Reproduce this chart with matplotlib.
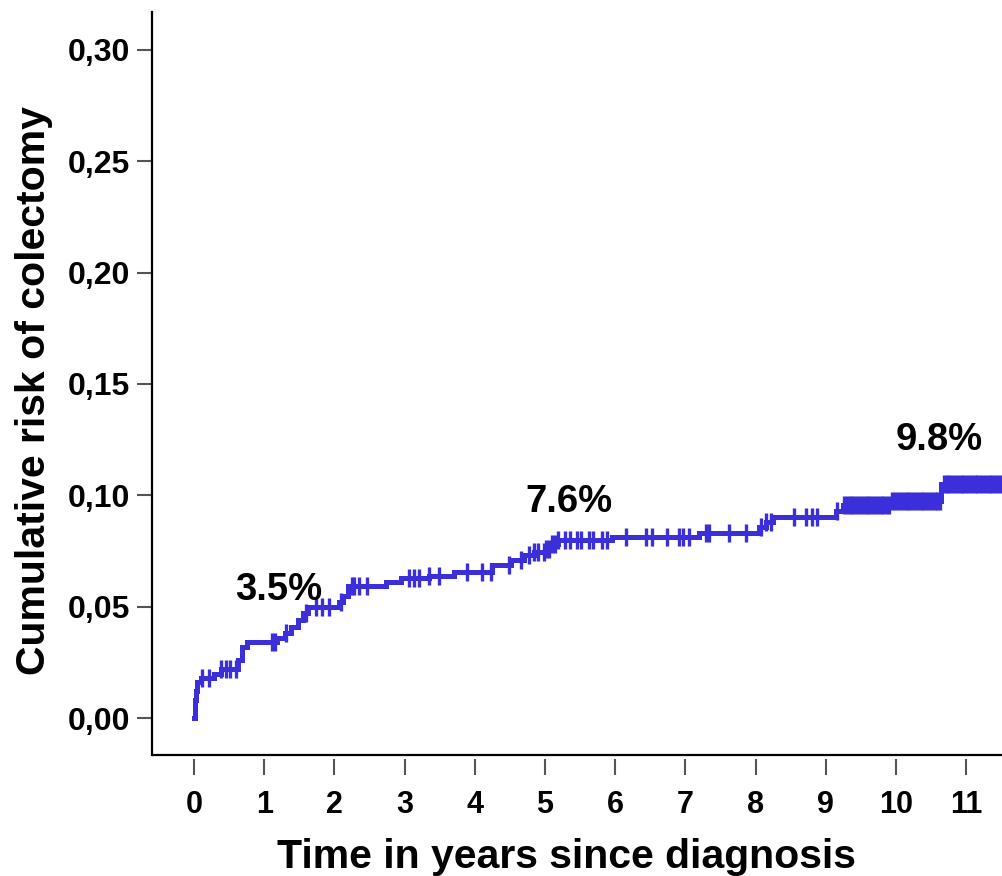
import matplotlib.pyplot as plt
import numpy as np

# step points of the cumulative colectomy risk curve (years, risk)
event_t = [0.0, 0.01, 0.02, 0.03, 0.05, 0.10, 0.28, 0.38, 0.62, 0.68, 0.75,
           1.18, 1.30, 1.38, 1.48, 1.56, 1.62, 2.06, 2.12, 2.20, 2.73, 2.95,
           3.35, 3.70, 4.25, 4.52, 4.70, 4.85, 5.00, 5.10, 5.18, 5.95, 7.20,
           8.05, 8.15, 8.25, 9.15, 9.24, 9.93, 10.64]
event_y = [0.0, 0.004, 0.008, 0.012, 0.016, 0.018, 0.020, 0.022, 0.026, 0.032, 0.034,
           0.036, 0.038, 0.041, 0.044, 0.047, 0.050, 0.052, 0.055, 0.0595, 0.061, 0.063,
           0.064, 0.0655, 0.0685, 0.071, 0.073, 0.0745, 0.076, 0.078, 0.080, 0.0815, 0.083,
           0.086, 0.088, 0.0903, 0.093, 0.0956, 0.0975, 0.105]
t_end = 11.6

# censored observations (years)
censor_t = [0.12, 0.21, 0.38, 0.45, 0.52, 0.60, 1.11, 1.15, 1.31, 1.60, 1.74, 1.83,
            1.92, 2.09, 2.25, 2.28, 2.35, 2.46, 3.06, 3.13, 3.20, 3.35, 3.49, 3.89,
            4.10, 4.23, 4.49, 4.66, 4.77, 4.85, 4.90, 4.98, 5.02, 5.06, 5.10, 5.14,
            5.18, 5.28, 5.35, 5.45, 5.52, 5.62, 5.68, 5.81, 5.88, 6.15, 6.44, 6.52,
            6.74, 6.91, 6.96, 7.05, 7.30, 7.34, 7.62, 7.86, 8.08, 8.15, 8.22, 8.55,
            8.72, 8.80, 8.87, 9.16,
            9.26, 9.30, 9.34, 9.38, 9.42, 9.46, 9.50, 9.54, 9.58, 9.62, 9.66, 9.70,
            9.74, 9.78, 9.82, 9.86, 9.90, 9.95, 9.99, 10.03, 10.07, 10.11, 10.15,
            10.19, 10.23, 10.27, 10.31, 10.35, 10.39, 10.43, 10.47, 10.51, 10.55,
            10.59, 10.63, 10.68, 10.72, 10.76, 10.80, 10.84, 10.88, 10.92, 10.96,
            11.00, 11.04, 11.08, 11.12, 11.16, 11.20, 11.24, 11.28, 11.32, 11.36,
            11.40, 11.44, 11.48, 11.52]

# labelled risks
label_txt = ['3.5%', '7.6%', '9.8%']
label_x = [1.21, 5.34, 10.61]
label_y = [0.0575, 0.097, 0.125]

x_ticks = list(range(0, 12))
y_ticks = [0.00, 0.05, 0.10, 0.15, 0.20, 0.25, 0.30]
y_ticklabels = ['0,00', '0,05', '0,10', '0,15', '0,20', '0,25', '0,30']

col = '#3a2fd8'
plt.rcParams['font.family'] = ['Liberation Sans', 'DejaVu Sans']
plt.rcParams['font.weight'] = 'bold'

fig = plt.figure(figsize=(10.02, 8.76), dpi=100)
ax = fig.add_axes([0.1517, 0.1381, 0.8483, 0.8482])

st = np.array(event_t + [t_end])
sy = np.array(event_y + [event_y[-1]])
ax.step(st, sy, where='post', color=col, lw=3.6, solid_joinstyle='miter')

# censor ticks sit on the curve
idx = np.searchsorted(np.array(event_t), np.array(censor_t), side='right') - 1
cy = np.array(event_y)[idx]
ax.plot(censor_t, cy, ls='none', marker='|', ms=13, mew=2.4, color=col)

for s, x, y in zip(label_txt, label_x, label_y):
    ax.text(x, y, s, ha='center', va='center', fontsize=27.5, fontweight='bold')

ax.set_xlim(-0.598, 11.51)
ax.set_ylim(-0.0166, 0.317)
ax.set_xticks(x_ticks)
ax.set_yticks(y_ticks)
ax.set_yticklabels(y_ticklabels)

ax.spines['top'].set_visible(False)
ax.spines['right'].set_visible(False)
ax.spines['left'].set_linewidth(1.6)
# x ticks are detached from the axis line
ax.spines['bottom'].set_position(('outward', 3))
ax.spines['bottom'].set_visible(False)
ax.plot([0, 1], [0, 0], transform=ax.transAxes, color='black', lw=1.6,
        clip_on=False, solid_capstyle='butt')

ax.tick_params(axis='y', length=11, width=1.5, color='#555555', pad=5, labelsize=23)
ax.tick_params(axis='x', length=11.5, width=1.5, color='#555555', pad=11, labelsize=22)

ax.set_xlabel('Time in years since diagnosis', fontsize=29.5, fontweight='bold')
ax.set_ylabel('Cumulative risk of colectomy', fontsize=29.5, fontweight='bold')
ax.xaxis.set_label_coords(0.488, -0.112)
ax.yaxis.set_label_coords(-0.139, 0.491)
ax.yaxis.label.set_va('center')

fig.savefig('out.png', dpi=100)
